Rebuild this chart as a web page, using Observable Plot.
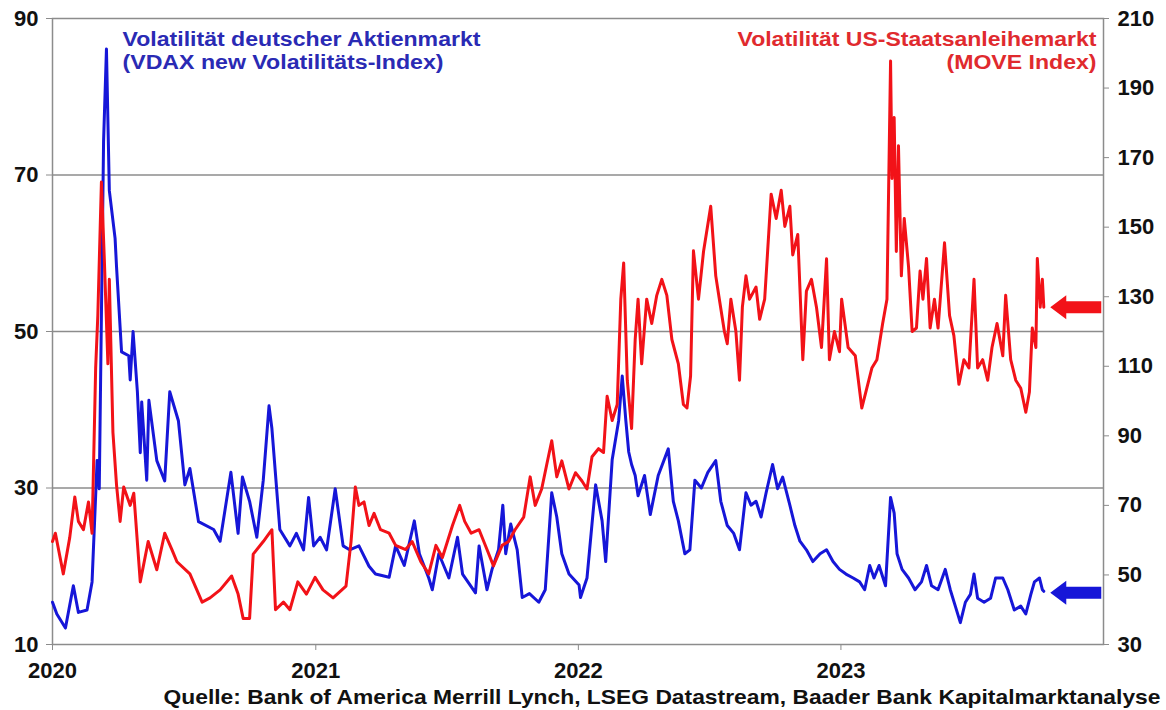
<!DOCTYPE html>
<html><head><meta charset="utf-8">
<script src="https://cdn.jsdelivr.net/npm/d3@7"></script>
<script src="https://cdn.jsdelivr.net/npm/@observablehq/plot@0.6"></script>
<style>html,body{margin:0;padding:0;background:#fff;}</style>
</head><body><div id="chart"></div>
<script>
// VDAX new (left axis)
const vdax = [
["2020-01-01",15.4],["2020-01-07",13.9],["2020-01-19",12.1],["2020-01-30",17.5],["2020-02-06",14.1],["2020-02-18",14.4],["2020-02-25",18.0],["2020-03-03",33.5],["2020-03-06",29.9],["2020-03-12",74.3],["2020-03-16",86.1],["2020-03-20",68.0],["2020-03-28",61.9],["2020-03-30",58.3],["2020-04-06",47.4],["2020-04-16",46.9],["2020-04-18",43.8],["2020-04-22",50.0],["2020-04-28",42.3],["2020-05-02",34.5],["2020-05-04",41.0],["2020-05-11",31.0],["2020-05-14",41.2],["2020-05-25",33.5],["2020-06-05",30.9],["2020-06-12",42.3],["2020-06-24",38.6],["2020-07-03",30.4],["2020-07-10",32.5],["2020-07-22",25.7],["2020-08-12",24.7],["2020-08-21",23.2],["2020-09-05",32.0],["2020-09-15",24.2],["2020-09-21",31.4],["2020-10-01",28.3],["2020-10-11",23.7],["2020-10-20",31.0],["2020-10-28",40.5],["2020-11-01",37.6],["2020-11-12",24.7],["2020-11-26",22.6],["2020-12-05",24.2],["2020-12-15",22.1],["2020-12-22",28.8],["2020-12-29",22.6],
["2021-01-07",23.7],["2021-01-16",22.1],["2021-01-28",29.9],["2021-02-08",22.6],["2021-02-17",22.1],["2021-03-02",22.6],["2021-03-16",20.0],["2021-03-25",19.0],["2021-04-13",18.6],["2021-04-22",22.6],["2021-05-04",20.1],["2021-05-18",25.8],["2021-05-25",21.6],["2021-06-07",18.5],["2021-06-12",17.0],["2021-06-21",21.6],["2021-07-05",18.5],["2021-07-17",23.7],["2021-07-24",19.0],["2021-08-11",16.6],["2021-08-16",22.6],["2021-08-27",17.0],["2021-09-03",19.6],["2021-09-12",22.1],["2021-09-18",27.8],["2021-09-22",21.6],["2021-09-29",25.4],["2021-10-08",22.1],["2021-10-15",16.0],["2021-10-25",16.5],["2021-11-07",15.4],["2021-11-16",17.0],["2021-11-25",29.4],["2021-12-02",26.3],["2021-12-09",21.6],["2021-12-19",19.0],
["2022-01-02",17.6],["2022-01-04",16.0],["2022-01-13",18.5],["2022-01-25",30.4],["2022-02-03",25.8],["2022-02-08",20.6],["2022-02-17",33.6],["2022-02-26",38.6],["2022-03-03",44.3],["2022-03-08",38.6],["2022-03-12",34.6],["2022-03-16",33.0],["2022-03-21",31.6],["2022-03-25",29.0],["2022-04-03",31.6],["2022-04-11",26.6],["2022-04-22",31.6],["2022-05-06",35.0],["2022-05-13",28.3],["2022-05-20",25.8],["2022-05-29",21.6],["2022-06-05",22.1],["2022-06-12",31.0],["2022-06-21",30.0],["2022-06-30",32.0],["2022-07-11",33.5],["2022-07-18",28.3],["2022-07-27",25.2],["2022-08-05",24.2],["2022-08-13",22.1],["2022-08-22",29.4],["2022-08-29",27.8],["2022-09-05",28.3],["2022-09-12",26.3],["2022-09-19",29.4],["2022-09-28",33.0],["2022-10-05",29.9],["2022-10-12",31.4],["2022-10-22",27.8],["2022-10-29",25.2],["2022-11-05",23.2],["2022-11-14",22.1],["2022-11-23",20.6],["2022-12-03",21.6],["2022-12-12",22.1],["2022-12-21",20.6],["2022-12-30",19.6],
["2023-01-08",19.0],["2023-01-18",18.5],["2023-01-27",18.0],["2023-02-03",17.0],["2023-02-10",20.1],["2023-02-16",18.5],["2023-02-23",20.1],["2023-03-04",17.5],["2023-03-11",28.8],["2023-03-16",26.8],["2023-03-20",21.6],["2023-03-27",19.6],["2023-04-05",18.5],["2023-04-14",17.0],["2023-04-23",18.0],["2023-04-30",20.1],["2023-05-07",17.5],["2023-05-16",17.0],["2023-05-26",19.6],["2023-06-02",17.0],["2023-06-09",14.9],["2023-06-16",12.8],["2023-06-23",15.4],["2023-06-30",16.4],["2023-07-05",19.0],["2023-07-10",15.9],["2023-07-19",15.4],["2023-07-28",15.9],["2023-08-04",18.5],["2023-08-14",18.5],["2023-08-21",17.0],["2023-08-30",14.4],["2023-09-08",14.9],["2023-09-15",13.9],["2023-09-22",16.4],["2023-09-27",18.0],["2023-10-04",18.5],["2023-10-08",17.0],["2023-10-10",16.8]
];
// MOVE Index (right axis)
const move = [
["2020-01-01",59.6],["2020-01-05",62.0],["2020-01-16",50.3],["2020-01-25",60.8],["2020-02-01",72.4],["2020-02-06",65.4],["2020-02-13",63.0],["2020-02-20",71.0],["2020-02-25",62.0],["2020-03-01",109.5],["2020-03-04",124.6],["2020-03-09",163.0],["2020-03-13",141.0],["2020-03-18",110.7],["2020-03-20",135.0],["2020-03-25",91.0],["2020-03-30",75.9],["2020-04-04",65.4],["2020-04-09",75.3],["2020-04-18",70.0],["2020-04-23",73.5],["2020-05-02",48.0],["2020-05-13",59.6],["2020-05-25",51.5],["2020-06-05",62.0],["2020-06-15",57.3],["2020-06-22",53.8],["2020-07-10",50.3],["2020-07-27",42.2],["2020-08-07",43.4],["2020-08-21",45.7],["2020-09-06",49.7],["2020-09-15",44.5],["2020-09-22",37.5],["2020-10-01",37.5],["2020-10-06",56.0],["2020-10-20",59.6],["2020-11-01",63.0],["2020-11-06",40.0],["2020-11-17",42.2],["2020-11-26",40.0],["2020-12-07",48.0],["2020-12-19",44.5],["2020-12-31",49.3],
["2021-01-11",45.7],["2021-01-25",43.4],["2021-02-12",46.8],["2021-02-19",59.6],["2021-02-25",75.3],["2021-03-02",70.0],["2021-03-09",71.0],["2021-03-16",64.2],["2021-03-23",67.7],["2021-04-01",63.0],["2021-04-13",62.0],["2021-04-22",58.5],["2021-05-06",57.3],["2021-05-15",59.6],["2021-05-27",53.8],["2021-06-07",50.3],["2021-06-17",58.5],["2021-06-26",55.0],["2021-07-10",64.2],["2021-07-20",70.0],["2021-07-27",65.4],["2021-08-05",62.0],["2021-08-16",63.0],["2021-08-27",57.3],["2021-09-05",52.6],["2021-09-17",58.5],["2021-09-26",59.6],["2021-10-05",63.0],["2021-10-17",66.6],["2021-10-26",78.2],["2021-11-02",70.0],["2021-11-11",74.7],["2021-11-18",81.7],["2021-11-25",88.6],["2021-12-02",78.2],["2021-12-09",82.8],["2021-12-19",74.7],["2021-12-28",79.4],
["2022-01-06",77.0],["2022-01-13",74.7],["2022-01-20",84.0],["2022-01-29",86.3],["2022-02-05",85.2],["2022-02-10",101.4],["2022-02-17",94.4],["2022-02-24",99.0],["2022-03-01",129.3],["2022-03-05",139.7],["2022-03-10",106.0],["2022-03-16",92.1],["2022-03-21",117.7],["2022-03-25",129.3],["2022-03-30",110.7],["2022-04-06",129.3],["2022-04-13",122.3],["2022-04-20",130.4],["2022-04-27",135.0],["2022-05-04",130.4],["2022-05-11",117.7],["2022-05-20",110.7],["2022-05-27",99.0],["2022-06-01",98.0],["2022-06-06",107.2],["2022-06-10",143.2],["2022-06-17",129.3],["2022-06-24",143.0],["2022-07-04",156.0],["2022-07-11",136.0],["2022-07-16",129.3],["2022-07-23",120.0],["2022-07-27",116.5],["2022-08-01",129.3],["2022-08-08",120.0],["2022-08-13",106.0],["2022-08-17",127.0],["2022-08-22",136.0],["2022-08-27",129.3],["2022-09-05",132.8],["2022-09-10",123.5],["2022-09-17",129.3],["2022-09-26",159.5],["2022-10-03",152.5],["2022-10-10",160.6],["2022-10-15",150.2],["2022-10-22",156.0],["2022-10-26",142.0],["2022-11-02",147.9],["2022-11-09",111.9],["2022-11-14",131.6],["2022-11-21",135.0],["2022-11-28",127.0],["2022-12-05",115.4],["2022-12-12",140.9],["2022-12-16",111.9],["2022-12-23",120.0],["2022-12-30",114.2],
["2023-01-02",129.3],["2023-01-11",115.4],["2023-01-21",113.0],["2023-01-30",98.0],["2023-02-06",103.7],["2023-02-13",109.5],["2023-02-20",111.9],["2023-02-28",122.3],["2023-03-06",129.3],["2023-03-11",197.8],["2023-03-13",164.0],["2023-03-16",181.5],["2023-03-19",143.0],["2023-03-22",173.4],["2023-03-26",136.0],["2023-03-30",152.5],["2023-04-05",138.6],["2023-04-10",120.0],["2023-04-16",121.0],["2023-04-21",137.4],["2023-04-25",129.3],["2023-04-30",141.0],["2023-05-05",121.0],["2023-05-11",129.3],["2023-05-16",121.0],["2023-05-25",145.5],["2023-06-01",124.6],["2023-06-07",118.8],["2023-06-14",104.8],["2023-06-21",111.9],["2023-06-28",109.5],["2023-07-05",135.0],["2023-07-10",109.5],["2023-07-17",111.9],["2023-07-24",106.0],["2023-07-30",115.4],["2023-08-06",122.3],["2023-08-14",113.0],["2023-08-18",130.4],["2023-08-25",111.9],["2023-09-01",106.0],["2023-09-08",103.7],["2023-09-15",96.8],["2023-09-20",102.6],["2023-09-24",121.0],["2023-09-29",115.4],["2023-10-01",141.0],["2023-10-05",127.0],["2023-10-08",135.0],["2023-10-10",127.0]
];
const leftTicks = [10, 30, 50, 70, 90];
const rightTicks = [30, 50, 70, 90, 110, 130, 150, 170, 190, 210];
const yearTicks = ["2020-01-01", "2021-01-01", "2022-01-01", "2023-01-01"];
const xDomain = ["2020-01-01", "2024-01-01"];
const blueLabel = ["Volatilität deutscher Aktienmarkt", "(VDAX new Volatilitäts-Index)"];
const redLabel = ["Volatilität US-Staatsanleihemarkt", "(MOVE Index)"];
const caption = "Quelle: Bank of America Merrill Lynch, LSEG Datastream, Baader Bank Kapitalmarktanalyse";
// current levels marked by arrows at the right edge
const arrowTip = "2023-10-19";
const vdaxArrowLevel = 16.6;
const moveArrowLevel = 127;

const BLUE = "#1616d8", RED = "#f21218", GRID = "#8c8c8c";
const BLUE_TXT = "#2a2ab4", RED_TXT = "#e02a2e";
const toLeft = m => 10 + (m - 30) * 80 / 180;
const fromLeft = v => 30 + (v - 10) * 180 / 80;
const D = s => new Date(s);

const arrowShape = {draw(ctx) {
  ctx.moveTo(0, 0); ctx.lineTo(16, -12); ctx.lineTo(16, -6); ctx.lineTo(51, -6);
  ctx.lineTo(51, 6); ctx.lineTo(16, 6); ctx.lineTo(16, 12); ctx.closePath();
}};

const txt = {fontSize: 22, fontWeight: "bold", fill: "#111"};
const lab = {lineAnchor: "bottom", fontSize: 20, fontWeight: "bold"};

const chart = Plot.plot({
  width: 1166, height: 710,
  marginLeft: 52, marginRight: 63, marginTop: 18, marginBottom: 66,
  style: {fontFamily: "'Liberation Sans', Arial, sans-serif", background: "#fff", overflow: "visible"},
  x: {type: "utc", domain: xDomain.map(D)},
  y: {domain: [10, 90]},
  marks: [
    Plot.ruleY(leftTicks.slice(1, -1), {stroke: GRID, strokeWidth: 1.5}),
    Plot.frame({stroke: GRID, strokeWidth: 1.5}),
    Plot.axisY({ticks: leftTicks, anchor: "left", tickSize: 6, tickPadding: 8, label: null, stroke: GRID, ...txt}),
    Plot.axisY({ticks: rightTicks.map(toLeft), tickFormat: d => Math.round(fromLeft(d)), anchor: "right", tickSize: 5, tickPadding: 9, label: null, stroke: GRID, ...txt}),
    Plot.axisX({ticks: yearTicks.map(D), tickFormat: d3.utcFormat("%Y"), tickSize: 6, tickPadding: 12, label: null, stroke: GRID, ...txt}),
    Plot.line(vdax, {x: d => D(d[0]), y: d => d[1], stroke: BLUE, strokeWidth: 3, strokeLinejoin: "round"}),
    Plot.line(move, {x: d => D(d[0]), y: d => toLeft(d[1]), stroke: RED, strokeWidth: 3, strokeLinejoin: "round"}),
    Plot.dot([moveArrowLevel], {x: () => D(arrowTip), y: d => toLeft(d), symbol: arrowShape, fill: RED, stroke: null, r: 10}),
    Plot.dot([vdaxArrowLevel], {x: () => D(arrowTip), y: d => d, symbol: arrowShape, fill: BLUE, stroke: null, r: 10}),
    Plot.text([blueLabel[0]], {frameAnchor: "top-left", textAnchor: "start", dx: 70, dy: 27.5, fill: BLUE_TXT, className: "bl1", ...lab}),
    Plot.text([blueLabel[1]], {frameAnchor: "top-left", textAnchor: "start", dx: 70, dy: 50.2, fill: BLUE_TXT, className: "bl2", ...lab}),
    Plot.text([redLabel[0]], {frameAnchor: "top-right", textAnchor: "end", dx: -7, dy: 27.5, fill: RED_TXT, className: "rl1", ...lab}),
    Plot.text([redLabel[1]], {frameAnchor: "top-right", textAnchor: "end", dx: -7, dy: 50.2, fill: RED_TXT, className: "rl2", ...lab}),
    Plot.text([caption], {frameAnchor: "bottom-right", textAnchor: "end", lineAnchor: "bottom", dx: 57, dy: 59, fontSize: 21, fontWeight: "bold", fill: "#111", className: "cap"})
  ]
});
const sel = d3.select(chart);
const stretch = (cls, w) => sel.selectAll("." + cls + " text").attr("textLength", w).attr("lengthAdjust", "spacingAndGlyphs");
stretch("cap", 997);
stretch("bl1", 358);
stretch("bl2", 321);
stretch("rl1", 359);
stretch("rl2", 150);
document.getElementById("chart").appendChild(chart);
</script>
</body></html>
